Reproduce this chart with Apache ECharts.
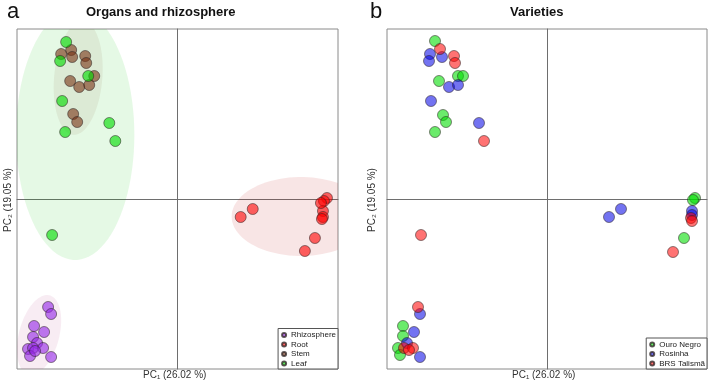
<!DOCTYPE html>
<html>
<head>
<meta charset="utf-8">
<script src="https://cdn.jsdelivr.net/npm/echarts@6/dist/echarts.min.js"></script>
<style>
  html, body { margin: 0; padding: 0; background: #fff; }
  #main { width: 708px; height: 382px; }
</style>
</head>
<body>
<div id="main"></div>
<script>
// panel a : organs and rhizosphere (PC1, PC2 scores)
var RHIZO_A = [[-12.9,-10.8],[-12.6,-11.5],[-14.3,-12.7],[-13.3,-13.3],[-14.4,-13.8],[-14.0,-14.4],[-14.9,-15.0],[-14.4,-14.9],[-13.4,-14.9],[-14.7,-15.7],[-12.6,-15.8],[-14.2,-15.2]];
var ROOT_A = [[7.5,-1.0],[6.3,-1.8],[14.9,0.1],[14.6,-0.2],[14.5,-1.2],[14.5,-1.8],[14.4,-2.0],[13.7,-3.9],[12.7,-5.2],[14.3,-0.4]];
var STEM_A = [[-11.6,14.5],[-10.6,14.9],[-10.5,14.2],[-9.2,14.3],[-9.1,13.6],[-8.3,12.3],[-10.7,11.8],[-9.8,11.2],[-8.8,11.4],[-10.4,8.5],[-10.0,7.7]];
var LEAF_A = [[-11.1,15.7],[-11.7,13.8],[-8.9,12.3],[-11.5,9.8],[-11.2,6.7],[-6.8,7.6],[-6.2,5.8],[-12.5,-3.6]];

// ellipses: [cx, cy, rx, ry, angle(deg)]
var ELL_LEAF = [[-10.2,6.4,5.9,12.5,0]];
var ELL_STEM = [[-9.9,12.1,2.4,5.7,-5]];
var ELL_RHIZO = [[-13.8,-13.6,2.0,4.1,-15]];
var ELL_ROOT = [[12.3,-1.75,6.9,3.95,0]];

// panel b : varieties
var OURO = [[-11.2,15.8],[-10.8,11.8],[-8.9,12.3],[-8.4,12.3],[-10.4,8.4],[-10.1,7.7],[-11.2,6.7],[-14.4,-12.7],[-14.4,-13.7],[-14.9,-14.9],[-14.7,-15.6],[14.8,0.1],[14.6,-0.1],[13.7,-3.9]];
var ROSINHA = [[-11.7,14.5],[-10.5,14.2],[-11.8,13.8],[-9.8,11.2],[-8.9,11.4],[-11.6,9.8],[-6.8,7.6],[-12.7,-11.5],[-13.3,-13.3],[-14.0,-14.4],[-12.7,-15.8],[6.2,-1.8],[7.4,-1.0],[14.5,-1.2],[14.5,-1.6]];
var TALISMA = [[-10.7,15.0],[-9.3,14.3],[-9.2,13.6],[-6.3,5.8],[-12.6,-3.6],[-12.9,-10.8],[-14.3,-14.9],[-13.4,-14.9],[14.4,-1.9],[14.5,-2.2],[12.6,-5.3],[-13.8,-15.1]];

var LEGEND_A = ['Rhizosphere', 'Root', 'Stem', 'Leaf'];
var LEGEND_B = ['Ouro Negro', 'Rosinha', 'BRS Talismã'];

var FONT = 'Liberation Sans, Arial, DejaVu Sans, sans-serif';

function ellipseItem(params, api) {
    var cx = api.value(0), cy = api.value(1), rx = api.value(2), ry = api.value(3);
    var a = api.value(4) * Math.PI / 180;
    var pts = [];
    for (var k = 0; k < 90; k++) {
        var t = k / 90 * Math.PI * 2;
        var x = rx * Math.cos(t), y = ry * Math.sin(t);
        pts.push(api.coord([cx + x * Math.cos(a) - y * Math.sin(a), cy + x * Math.sin(a) + y * Math.cos(a)]));
    }
    return { type: 'polygon', shape: { points: pts }, style: { fill: api.visual('color') } };
}

function ellSeries(data, idx, color) {
    return {
        type: 'custom', xAxisIndex: idx, yAxisIndex: idx, clip: true, silent: true,
        renderItem: ellipseItem, data: data, itemStyle: { color: color },
        encode: { x: 0, y: 1 }, z: 2
    };
}

function dotSeries(name, data, idx, color) {
    return {
        name: name, type: 'scatter', xAxisIndex: idx, yAxisIndex: idx,
        symbolSize: 11, data: data, z: 3,
        itemStyle: { color: color, borderColor: 'rgba(40,30,30,0.75)', borderWidth: 0.7, opacity: 1 }
    };
}

function xAx(idx) {
    return {
        gridIndex: idx, type: 'value', min: -16, max: 16,
        axisLine: { onZero: true, lineStyle: { color: '#6e6e6e', width: 1 } },
        axisTick: { show: false }, axisLabel: { show: false }, splitLine: { show: false }
    };
}
function yAx(idx) {
    return {
        gridIndex: idx, type: 'value', min: -17, max: 17,
        axisLine: { onZero: true, lineStyle: { color: '#6e6e6e', width: 1 } },
        axisTick: { show: false }, axisLabel: { show: false }, splitLine: { show: false }
    };
}

var legendText = { fontSize: 8, color: '#222', fontFamily: FONT, lineHeight: 9 };

var chart = echarts.init(document.getElementById('main'));
chart.setOption({
    animation: false,
    backgroundColor: '#fff',
    title: [
        { text: 'a', left: 2, top: -4, textStyle: { fontSize: 22, fontWeight: 'normal', color: '#111', fontFamily: FONT } },
        { text: 'b', left: 365, top: -4, textStyle: { fontSize: 22, fontWeight: 'normal', color: '#111', fontFamily: FONT } },
        { text: 'Organs and rhizosphere', left: 86, top: 6, padding: 0, textStyle: { fontSize: 13, fontWeight: 'bold', color: '#111', fontFamily: FONT } },
        { text: 'Varieties', left: 510, top: 6, padding: 0, textStyle: { fontSize: 13, fontWeight: 'bold', color: '#111', fontFamily: FONT } },
        { text: 'PC₁ (26.02 %)', left: 143, top: 370, padding: 0, textStyle: { fontSize: 10, fontWeight: 'normal', color: '#333', fontFamily: FONT } },
        { text: 'PC₁ (26.02 %)', left: 512, top: 370, padding: 0, textStyle: { fontSize: 10, fontWeight: 'normal', color: '#333', fontFamily: FONT } }
    ],
    graphic: [
        { type: 'text', x: 8, y: 200, rotation: Math.PI / 2,
          style: { text: 'PC₂ (19.05 %)', font: '10px ' + FONT, fill: '#333', textAlign: 'center', textVerticalAlign: 'middle' } },
        { type: 'text', x: 372, y: 200, rotation: Math.PI / 2,
          style: { text: 'PC₂ (19.05 %)', font: '10px ' + FONT, fill: '#333', textAlign: 'center', textVerticalAlign: 'middle' } }
    ],
    grid: [
        { left: 17, top: 29, width: 321, height: 340, show: true, borderColor: '#8a8a8a', borderWidth: 1, backgroundColor: 'transparent' },
        { left: 387, top: 29, width: 320, height: 340, show: true, borderColor: '#8a8a8a', borderWidth: 1, backgroundColor: 'transparent' }
    ],
    xAxis: [xAx(0), xAx(1)],
    yAxis: [yAx(0), yAx(1)],
    legend: [
        { data: LEGEND_A, orient: 'vertical', right: 370, bottom: 13, itemWidth: 4, itemHeight: 4, itemGap: 0.5,
          icon: 'circle', padding: [2, 2, 1, 3], borderColor: '#555', borderWidth: 1, backgroundColor: '#fff',
          textStyle: legendText, selectedMode: false, z: 10 },
        { data: LEGEND_B, orient: 'vertical', right: 1, bottom: 13, itemWidth: 4, itemHeight: 4, itemGap: 0.5,
          icon: 'circle', padding: [2, 2, 1, 3], borderColor: '#555', borderWidth: 1, backgroundColor: '#fff',
          textStyle: legendText, selectedMode: false, z: 10 }
    ],
    series: [
        ellSeries(ELL_LEAF, 0, 'rgba(0,200,0,0.1)'),
        ellSeries(ELL_STEM, 0, 'rgba(120,60,30,0.08)'),
        ellSeries(ELL_RHIZO, 0, 'rgba(190,70,140,0.1)'),
        ellSeries(ELL_ROOT, 0, 'rgba(200,40,40,0.12)'),
        dotSeries('Rhizosphere', RHIZO_A, 0, 'rgba(150,40,230,0.62)'),
        dotSeries('Root', ROOT_A, 0, 'rgba(255,0,0,0.6)'),
        dotSeries('Stem', STEM_A, 0, 'rgba(120,50,20,0.6)'),
        dotSeries('Leaf', LEAF_A, 0, 'rgba(0,220,0,0.62)'),
        dotSeries('Ouro Negro', OURO, 1, 'rgba(0,220,0,0.58)'),
        dotSeries('Rosinha', ROSINHA, 1, 'rgba(0,0,230,0.55)'),
        dotSeries('BRS Talismã', TALISMA, 1, 'rgba(255,0,0,0.55)')
    ]
});
</script>
</body>
</html>
